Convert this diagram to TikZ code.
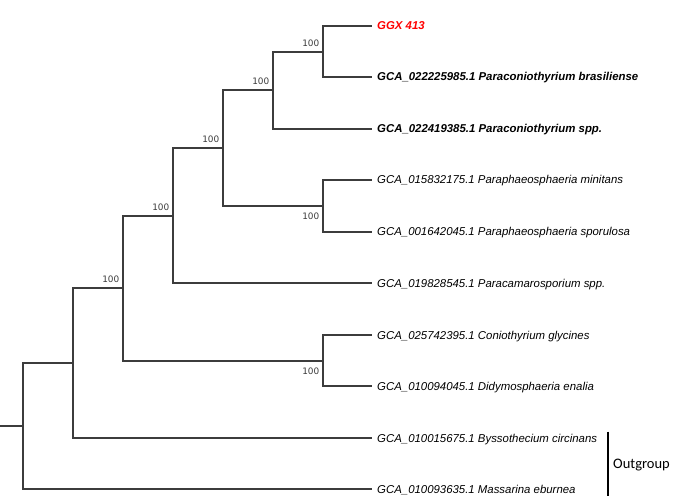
\documentclass[tikz,border=0pt]{standalone}
\usepackage{fontspec}
\setmainfont{Liberation Sans}
\newfontfamily\bootfont{DejaVu Sans}
\newfontfamily\groupfont{Carlito}
\usepackage{xcolor}
\usepackage{tikz}
\usetikzlibrary{positioning}

\definecolor{branchgray}{HTML}{3C3C3C}
\definecolor{bootgray}{HTML}{3A3A3A}
\definecolor{queryred}{HTML}{FF0000}

\begin{document}
\begin{tikzpicture}[x=1pt, y=-1pt,
    branch/.style={draw=branchgray, line width=2pt, line cap=rect},
    leaf/.style={font=\fontsize{11.4}{13}\selectfont\itshape, inner sep=0pt, anchor=base west},
    strong/.style={leaf, font=\fontsize{11.4}{13}\selectfont\bfseries\itshape},
    query/.style={strong, text=queryred},
    boot/.style={font=\bootfont\fontsize{8.9}{10}\selectfont, text=bootgray, inner sep=0pt},
    group/.style={font=\groupfont\fontsize{14.5}{17}\selectfont, inner sep=0pt, anchor=base west}]
    \useasboundingbox (0,0) rectangle (692,502);
    \def\tip{371}

    % Leaf tips
    \foreach \i/\y in {0/26, 1/77, 2/129, 3/180, 4/232, 5/283, 6/335, 7/386, 8/438, 9/489} {
        \coordinate (t\i) at (\tip, \y);
    }

    % Internal nodes
    \coordinate (n1) at (323, 52);
    \coordinate (n2) at (273, 90);
    \coordinate (n3) at (323, 206);
    \coordinate (n4) at (223, 148);
    \coordinate (n5) at (173, 216);
    \coordinate (n6) at (323, 361);
    \coordinate (n7) at (123, 288);
    \coordinate (n8) at (73, 363);
    \coordinate (root) at (23, 426);
    \coordinate (stub) at (0, 426);

    % Branches
    \foreach \a/\b in {n1/t0, n1/t1, n2/n1, n2/t2, n3/t3, n3/t4, n4/n2, n4/n3,
                       n5/n4, n5/t5, n6/t6, n6/t7, n7/n5, n7/n6, n8/n7, n8/t8,
                       root/n8, root/t9} {
        \draw[branch] (\a) |- (\b);
    }
    \draw[branch] (stub) -- (root);

    % Bootstrap support
    \foreach \n in {n1, n2, n4, n5, n7} {
        \node[boot, above left=5.2pt and 3.5pt of \n] (b\n) {100};
    }
    \foreach \n in {n3, n6} {
        \node[boot, below left=6.8pt and 3.5pt of \n] (b\n) {100};
    }

    % Taxa
    \node[query] (l0) at (377, 30) {GGX 413};
    \node[strong] (l1) at (377, 81) {GCA\_022225985.1 Paraconiothyrium brasiliense};
    \node[strong] (l2) at (377, 133) {GCA\_022419385.1 Paraconiothyrium spp.};
    \node[leaf] (l3) at (377, 184) {GCA\_015832175.1 Paraphaeosphaeria minitans};
    \node[leaf] (l4) at (377, 236) {GCA\_001642045.1 Paraphaeosphaeria sporulosa};
    \node[leaf] (l5) at (377, 287) {GCA\_019828545.1 Paracamarosporium spp.};
    \node[leaf] (l6) at (377, 339) {GCA\_025742395.1 Coniothyrium glycines};
    \node[leaf] (l7) at (377, 390) {GCA\_010094045.1 Didymosphaeria enalia};
    \node[leaf] (l8) at (377, 442) {GCA\_010015675.1 Byssothecium circinans};
    \node[leaf] (l9) at (377, 493) {GCA\_010093635.1 Massarina eburnea};

    % Outgroup bracket
    \coordinate (ogtop) at (608, 431.5);
    \coordinate (ogbot) at (608, 495.5);
    \draw[line width=2pt] (ogtop) -- (ogbot);
    \node[group] (og) at (613, 468.7) {Outgroup};
\end{tikzpicture}
\end{document}
